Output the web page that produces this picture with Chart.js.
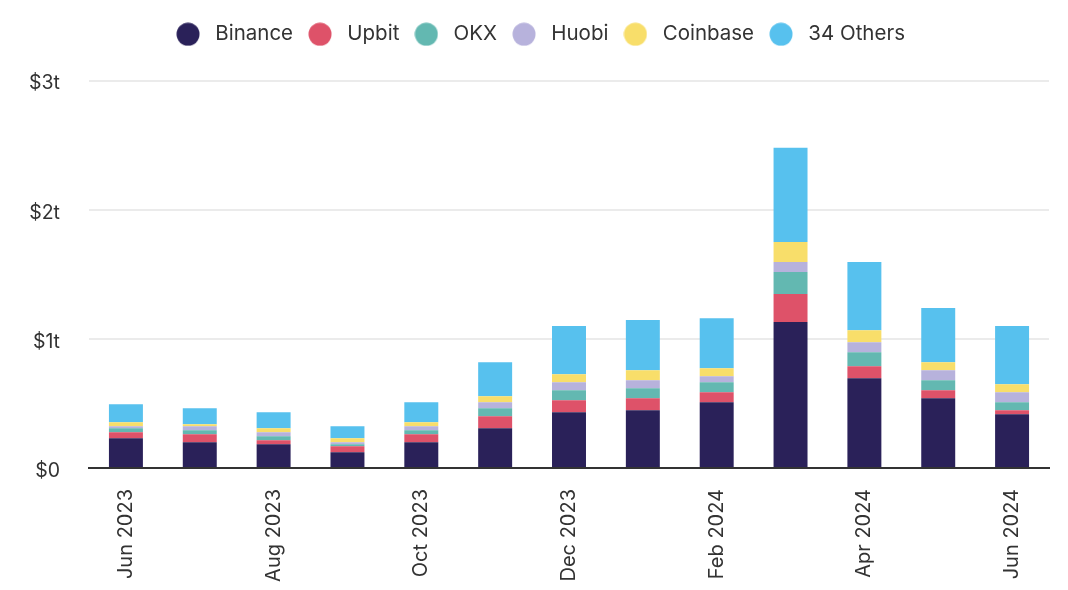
<!DOCTYPE html>
<html>
<head>
<meta charset="utf-8">
<script src="https://cdn.jsdelivr.net/npm/chart.js@4.4.1/dist/chart.umd.min.js"></script>
<style>
html,body{margin:0;padding:0;background:#fff;}
#wrap{width:1068px;height:590px;position:relative;}
</style>
</head>
<body>
<div id="wrap"><canvas id="c" width="1068" height="590"></canvas></div>
<script>
const categories = ["Jun 2023","Jul 2023","Aug 2023","Sep 2023","Oct 2023","Nov 2023","Dec 2023","Jan 2024","Feb 2024","Mar 2024","Apr 2024","May 2024","Jun 2024"];
// values in trillions of USD
const binance  = [0.230,0.199,0.184,0.122,0.199,0.308,0.432,0.447,0.509,1.130,0.695,0.540,0.416];
const upbit    = [0.047,0.062,0.031,0.046,0.062,0.093,0.093,0.093,0.078,0.217,0.093,0.062,0.032];
const okx      = [0.031,0.031,0.031,0.016,0.031,0.062,0.077,0.078,0.077,0.171,0.109,0.078,0.062];
const huobi    = [0.015,0.031,0.031,0.015,0.031,0.046,0.062,0.062,0.047,0.077,0.077,0.077,0.077];
const coinbase = [0.031,0.016,0.031,0.031,0.031,0.047,0.062,0.077,0.062,0.155,0.093,0.062,0.062];
const others   = [0.140,0.124,0.124,0.093,0.155,0.263,0.373,0.388,0.387,0.729,0.527,0.419,0.450];
const yTicks = [0,1,2,3];
const yTickLabels = ["$0","$1t","$2t","$3t"];
const seriesNames = ["Binance","Upbit","OKX","Huobi","Coinbase","34 Others"];
const seriesColors = ["#2a2159","#de5269","#63b8b1","#b7b2dc","#f8de6a","#57c1ee"];

const FONT = "Inter, 'Noto Sans', sans-serif";
const mk = (i, data) => ({label: seriesNames[i], data, backgroundColor: seriesColors[i], borderWidth: 0, barPercentage: 0.92, categoryPercentage: 0.5});

function dot(color) {
  const c = document.createElement('canvas');
  c.width = 24; c.height = 24;
  const g = c.getContext('2d');
  g.fillStyle = color;
  g.beginPath(); g.arc(12, 12, 11.5, 0, Math.PI * 2); g.fill();
  return c;
}
const dots = seriesColors.map(dot);

const legendTweak = {
  id: 'legendTweak',
  beforeInit(chart) {
    const lg = chart.legend;
    const origFit = lg.fit;
    lg.fit = function() {
      origFit.apply(this, arguments);
      this.height += 26;
    };
    const origDraw = lg.draw;
    lg.draw = function() {
      const ctx = this.ctx;
      ctx.save();
      ctx.translate(13.5, 0);
      origDraw.apply(this, arguments);
      ctx.restore();
    };
  }
};

new Chart(document.getElementById('c'), {
  type: 'bar',
  plugins: [legendTweak],
  data: {
    labels: categories,
    datasets: [
      mk(0, binance), mk(1, upbit), mk(2, okx), mk(3, huobi), mk(4, coinbase), mk(5, others)
    ]
  },
  options: {
    responsive: false,
    animation: false,
    layout: {padding: {left: 0, right: 19, top: 14, bottom: 0}},
    plugins: {
      tooltip: {enabled: false},
      legend: {
        position: 'top',
        labels: {
          usePointStyle: true,
          pointStyleWidth: 34,
          boxHeight: 20,
          padding: 10,
          color: '#333',
          font: {family: FONT, size: 20.5},
          generateLabels: function(chart) {
            const items = Chart.defaults.plugins.legend.labels.generateLabels(chart);
            items.forEach((it, i) => { it.pointStyle = dots[i]; });
            return items;
          }
        }
      }
    },
    scales: {
      x: {
        stacked: true,
        grid: {display: false},
        border: {display: true, color: '#333', width: 2},
        afterFit: (axis) => { axis.height = 122; },
        ticks: {
          autoSkip: false,
          maxRotation: 90,
          minRotation: 90,
          padding: 13,
          color: '#333',
          font: {family: FONT, size: 20},
          callback: function(v, i) { return i % 2 === 0 ? categories[i] : ''; }
        }
      },
      y: {
        stacked: true,
        min: 0,
        max: 3,
        afterBuildTicks: (axis) => { axis.ticks = yTicks.map(v => ({value: v})); },
        afterFit: (axis) => { axis.width = 89; },
        grid: {color: '#ebebeb', lineWidth: 2, drawTicks: false},
        border: {display: false},
        ticks: {
          padding: 29,
          labelOffset: 3,
          color: '#333',
          font: {family: FONT, size: 19.5},
          callback: function(v) { const i = yTicks.indexOf(v); return i >= 0 ? yTickLabels[i] : ''; }
        }
      }
    }
  }
});
</script>
</body>
</html>
